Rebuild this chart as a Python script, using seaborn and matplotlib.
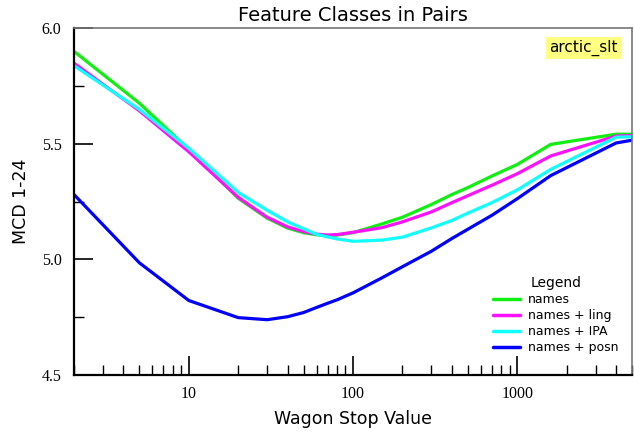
import numpy as np
import pandas as pd
import matplotlib
matplotlib.use("Agg")
import matplotlib.pyplot as plt
import matplotlib.ticker as mticker
import seaborn as sns

# stop values (x) and MCD scores per feature set
stop_values = [2, 5, 10, 20, 30, 40, 50, 60, 70, 80, 100, 150, 200, 300, 400, 500, 700, 1000, 1600, 4000, 5000]

names = [5.899, 5.675, 5.475, 5.264, 5.178, 5.135, 5.115, 5.106, 5.103, 5.105, 5.115, 5.153, 5.182,
         5.237, 5.28, 5.31, 5.36, 5.41, 5.497, 5.541, 5.541]
names_ling = [5.848, 5.642, 5.465, 5.268, 5.182, 5.14, 5.12, 5.109, 5.105, 5.107, 5.117, 5.137, 5.162,
              5.205, 5.245, 5.275, 5.32, 5.37, 5.447, 5.533, 5.535]
names_ipa = [5.837, 5.648, 5.48, 5.289, 5.212, 5.162, 5.132, 5.108, 5.097, 5.088, 5.078, 5.083, 5.096,
             5.136, 5.168, 5.2, 5.245, 5.3, 5.389, 5.528, 5.53]
names_posn = [5.28, 4.985, 4.822, 4.748, 4.739, 4.752, 4.77, 4.792, 4.81, 4.825, 4.855, 4.92, 4.968,
              5.035, 5.09, 5.13, 5.19, 5.262, 5.362, 5.503, 5.515]

series_labels = ["names", "names + ling", "names + IPA", "names + posn"]
series_values = [names, names_ling, names_ipa, names_posn]
colors = ["#11ee11", "#ff11ff", "#11ffff", "#0000ff"]

rows = []
for lab, vals in zip(series_labels, series_values):
    for x, y in zip(stop_values, vals):
        rows.append({"stop": x, "mcd": y, "features": lab})
df = pd.DataFrame(rows)

sns.set_theme(style="white")
plt.rcParams['font.family'] = ['DejaVu Sans']
plt.rcParams['text.color'] = 'black'
plt.rcParams['axes.labelcolor'] = 'black'
plt.rcParams['xtick.color'] = 'black'
plt.rcParams['ytick.color'] = 'black'

fig = plt.figure(figsize=(6.34, 4.34), dpi=100)
ax = fig.add_axes([74 / 634, 1 - 375 / 434, (632 - 74) / 634, (375 - 28) / 434])

sns.lineplot(data=df, x="stop", y="mcd", hue="features", palette=dict(zip(series_labels, colors)),
             linewidth=2.3, ax=ax, sort=False)

ax.set_xscale("log")
ax.set_xlim(2, 5000)
ax.set_ylim(4.5, 6.0)

ax.xaxis.set_major_locator(mticker.FixedLocator([10, 100, 1000]))
ax.xaxis.set_major_formatter(mticker.FixedFormatter(["10", "100", "1000"]))
ax.xaxis.set_minor_locator(mticker.LogLocator(base=10, subs=np.arange(2, 10)))
ax.xaxis.set_minor_formatter(mticker.NullFormatter())
ax.yaxis.set_major_locator(mticker.MultipleLocator(0.5))
ax.yaxis.set_major_formatter(mticker.FormatStrFormatter("%.1f"))
ax.yaxis.set_minor_locator(mticker.MultipleLocator(0.25))

ax.tick_params(which="major", direction="in", length=14, width=1.2, color="black")
ax.tick_params(which="minor", direction="in", length=7, width=1.0, color="black")
ax.tick_params(axis="x", which="major", pad=8)
ax.tick_params(axis="y", which="major", pad=9)
ax.tick_params(axis="both", which="both", top=False, right=False, bottom=True, left=True,
               labelcolor="black")
for lbl in ax.get_xticklabels() + ax.get_yticklabels():
    lbl.set_family("Liberation Serif")
    lbl.set_fontsize(11.5)

for side in ["left", "bottom"]:
    ax.spines[side].set_color("black")
    ax.spines[side].set_linewidth(1.6)
for side in ["top", "right"]:
    ax.spines[side].set_color("#777777")
    ax.spines[side].set_linewidth(1.2)

ax.set_title("Feature Classes in Pairs", fontsize=14, pad=5, color="black")
ax.set_xlabel("Wagon Stop Value", fontsize=12.5, color="black")
ax.set_ylabel("MCD 1-24", fontsize=12.5, color="black")
ax.xaxis.set_label_coords(0.5, -0.102)
ax.yaxis.set_label_coords(-0.079, 0.5)

ax.text(0.974, 0.942, "arctic_slt", transform=ax.transAxes, ha="right", va="center", fontsize=11,
        color="black", bbox=dict(boxstyle="square,pad=0.2", facecolor="#ffff80", edgecolor="none"))

leg = ax.legend(title="Legend", loc="lower right", bbox_to_anchor=(0.984, 0.045), borderaxespad=0,
                frameon=False, fontsize=9, title_fontsize=10, handlelength=2.15, handletextpad=0.6,
                labelspacing=0.25)
leg.get_title().set_color("black")
for txt in leg.get_texts():
    txt.set_color("black")
for line in leg.get_lines():
    line.set_linewidth(2.5)

fig.savefig("out.png", dpi=100)
